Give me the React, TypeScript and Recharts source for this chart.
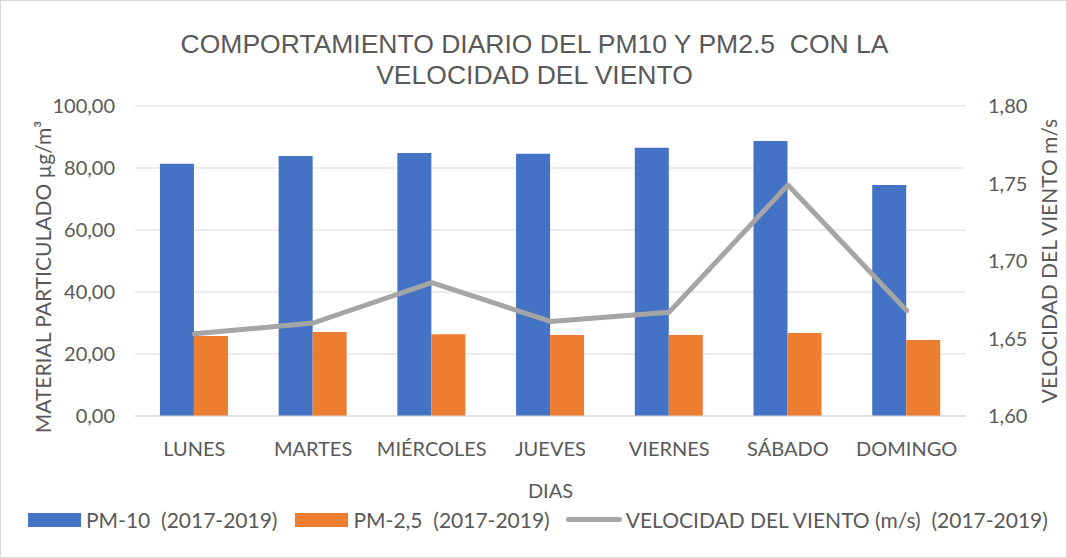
import {
  ComposedChart,
  Bar,
  Line,
  XAxis,
  YAxis,
  CartesianGrid,
} from "recharts";

const dias = ["LUNES", "MARTES", "MIÉRCOLES", "JUEVES", "VIERNES", "SÁBADO", "DOMINGO"];
const pm10 = [81.4, 83.9, 84.8, 84.6, 86.5, 88.7, 74.5];
const pm25 = [25.8, 27.1, 26.4, 26.1, 26.1, 26.8, 24.5];
const viento = [1.653, 1.66, 1.686, 1.661, 1.667, 1.749, 1.668];
const leftTicks = [0, 20, 40, 60, 80, 100];
const rightTicks = [1.6, 1.65, 1.7, 1.75, 1.8];

const data = dias.map((d, i) => ({
  dia: d,
  pm10: pm10[i],
  pm25: pm25[i],
  viento: viento[i],
}));

const FONT = "Lato, 'Noto Sans', sans-serif";
const GREY = "#595959";

function fmt(v: number) {
  return v.toFixed(2).replace(".", ",");
}

// left axis title sits a bit below the plot centre in the original
function LeftTitle(props: any) {
  const vb = props.viewBox || { x: 0, y: 0, height: 0 };
  const x = vb.x + 42;
  const y = vb.y + vb.height / 2 + 16;
  return (
    <text
      x={x}
      y={y}
      transform={`rotate(-90, ${x}, ${y})`}
      textAnchor="middle"
      dominantBaseline="central"
      fontSize={21}
      fill={GREY}
      fontFamily={FONT}
    >
      MATERIAL PARTICULADO µg/m³
    </text>
  );
}

function LegendRow() {
  const item = (color: string, label: string, gap: number, line?: boolean) => (
    <div style={{ display: "flex", alignItems: "center", marginRight: gap }}>
      {line ? (
        <div style={{ width: 56, height: 5, borderRadius: 3, background: color, marginRight: 4 }} />
      ) : (
        <div style={{ width: 53, height: 14, background: color, marginRight: 5 }} />
      )}
      <span>{label}</span>
    </div>
  );
  return (
    <div
      style={{
        position: "absolute",
        left: 27,
        top: 506,
        display: "flex",
        fontFamily: FONT,
        fontSize: 21,
        color: GREY,
        whiteSpace: "pre",
      }}
    >
      {item("#4472C4", "PM-10  (2017-2019)", 18)}
      {item("#ED7D31", "PM-2,5  (2017-2019)", 16)}
      {item("#A5A5A5", "VELOCIDAD DEL VIENTO (m/s)  (2017-2019)", 0, true)}
    </div>
  );
}

export default function App() {
  return (
    <div
      style={{
        position: "absolute",
        left: 0,
        top: 0,
        width: 1067,
        height: 558,
        background: "#fff",
        border: "1px solid #d9d9d9",
        boxSizing: "border-box",
      }}
    >
      <div
        style={{
          position: "absolute",
          left: 0,
          top: 28,
          width: 1067,
          textAlign: "center",
          fontFamily: "'Liberation Sans', Arial, sans-serif",
          fontSize: 26.5,
          lineHeight: "31px",
          color: GREY,
          whiteSpace: "pre",
        }}
      >
        {"COMPORTAMIENTO DIARIO DEL PM10 Y PM2.5  CON LA\nVELOCIDAD DEL VIENTO"}
      </div>
      <div style={{ position: "absolute", left: -1, top: -1 }}>
        <ComposedChart
          width={1067}
          height={558}
          data={data}
          margin={{ top: 106, right: 0, bottom: 52, left: 0 }}
          barGap={0}
          barCategoryGap="21%"
        >
          <CartesianGrid vertical={false} stroke="#d9d9d9" yAxisId="left" />
          <XAxis
            dataKey="dia"
            height={90}
            tickLine={false}
            axisLine={{ stroke: "#d9d9d9" }}
            tick={{ fontSize: 20, fill: GREY, fontFamily: FONT }}
            tickMargin={20}
            interval={0}
            label={{
              value: "DIAS",
              position: "insideBottom",
              offset: 8,
              style: { fontSize: 20, fill: GREY, fontFamily: FONT },
            }}
          />
          <YAxis
            yAxisId="left"
            width={135}
            domain={[0, 100]}
            ticks={leftTicks}
            tickFormatter={fmt}
            tickLine={false}
            axisLine={false}
            tickSize={0}
            tickMargin={20}
            tick={{ fontSize: 20, fill: GREY, fontFamily: FONT }}
            label={<LeftTitle />}
          />
          <YAxis
            yAxisId="right"
            orientation="right"
            width={101}
            domain={[1.6, 1.8]}
            ticks={rightTicks}
            tickFormatter={fmt}
            tickLine={false}
            axisLine={false}
            tickSize={0}
            tickMargin={22}
            tick={{ fontSize: 20, fill: GREY, fontFamily: FONT }}
            label={{
              value: "VELOCIDAD DEL VIENTO m/s",
              angle: -90,
              position: "insideRight",
              offset: 17,
              style: { textAnchor: "middle", fontSize: 21, fill: GREY, fontFamily: FONT },
            }}
          />
          <Bar yAxisId="left" dataKey="pm10" fill="#4472C4" isAnimationActive={false} />
          <Bar yAxisId="left" dataKey="pm25" fill="#ED7D31" isAnimationActive={false} />
          <Line
            yAxisId="right"
            dataKey="viento"
            stroke="#A5A5A5"
            strokeWidth={5}
            strokeLinecap="round"
            strokeLinejoin="round"
            dot={false}
            type="linear"
            isAnimationActive={false}
          />
        </ComposedChart>
      </div>
      <LegendRow />
    </div>
  );
}
